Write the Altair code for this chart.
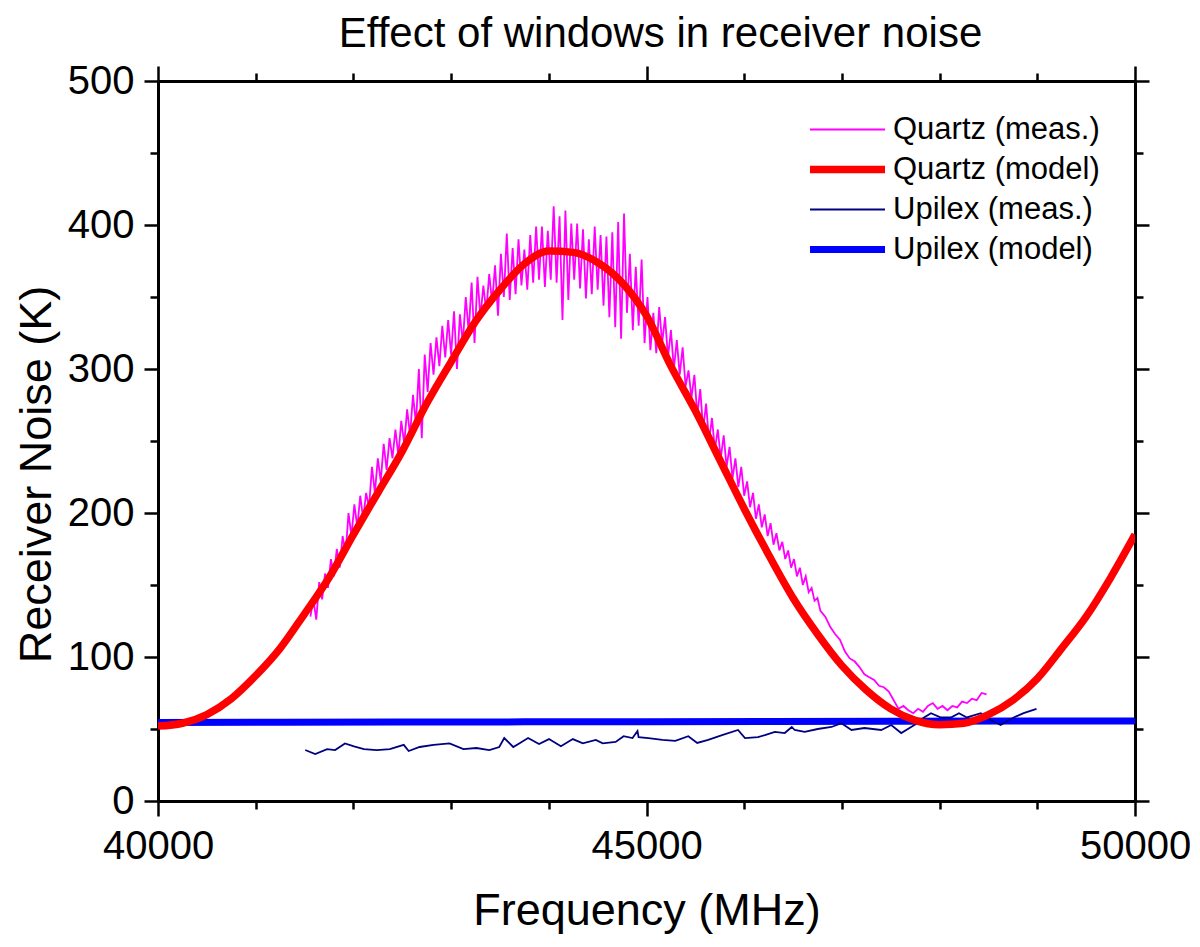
import pandas as pd
import altair as alt

names = ["Quartz (meas.)", "Quartz (model)", "Upilex (meas.)", "Upilex (model)"]
colors = ["#ff00ff", "#ff0000", "#000080", "#0000ff"]

# Quartz window, model (K), read every 250 MHz
model_freq = list(range(40000, 50001, 250))
quartz_model = [52, 54, 60, 71, 87, 106, 130, 155, 185, 214,
                243, 276, 305, 333, 355, 373, 382, 381, 374, 360,
                337, 302, 271, 237, 203, 171, 141, 116, 94, 77,
                64, 56, 53, 54, 60, 70, 85, 106, 128, 155,
                185]

# Upilex window, model (K)
upilex_model_freq = [40000, 42500, 45000, 47500, 50000]
upilex_model = [54.5, 54.8, 55.1, 55.4, 55.6]

# Quartz window, measured (K): noisy part read every 30 MHz, then the smoother tail
quartz_meas_freq = list(range(41560, 46781, 30))
quartz_meas = [128, 140, 126, 152, 140, 158, 148, 168, 156, 175,
               162, 184, 172, 200, 184, 206, 190, 212, 196, 214,
               204, 232, 214, 238, 222, 248, 230, 252, 238, 258,
               240, 264, 248, 272, 254, 282, 262, 300, 252, 310,
               284, 318, 296, 322, 302, 330, 308, 334, 310, 340,
               300, 338, 318, 350, 326, 360, 318, 364, 336, 358,
               340, 366, 346, 372, 337, 380, 350, 394, 348, 384,
               352, 390, 358, 383, 355, 393, 360, 399, 362, 399,
               357, 396, 362, 413, 360, 406, 334, 410, 348, 401,
               362, 401, 356, 397, 349, 390, 352, 399, 355, 393,
               344, 392, 336, 395, 329, 402, 321, 408, 339, 380,
               327, 371, 330, 376, 318, 350, 313, 339, 311, 343,
               318, 336, 308, 327, 300, 320, 296, 315, 288, 299,
               280, 296, 268, 286, 258, 276, 250, 266, 244, 258,
               238, 254, 232, 246, 224, 238, 218, 232, 212, 222,
               204, 214, 196, 206, 190, 199, 184, 193, 178, 186,
               174, 180, 168, 174, 162, 168, 156, 162, 150, 156,
               145, 148, 139, 141, 132]
quartz_tail_freq = [46830, 46880, 46930, 46980, 47030, 47080, 47130, 47180, 47230, 47280,
                    47330, 47380, 47430, 47480, 47530, 47580, 47630, 47680, 47730, 47780,
                    47830, 47880, 47930, 47980, 48030, 48080, 48130, 48180, 48230, 48280,
                    48330, 48380, 48430, 48480]
quartz_tail = [128, 121, 116, 112, 104, 99, 97, 93, 88, 86,
               84, 80, 79, 76, 70, 64, 66, 63, 61, 64,
               62, 66, 68, 64, 66, 63, 66, 65, 69, 68,
               71, 70, 75, 74]

# Upilex window, measured (K)
upilex_meas_freq = [41507, 41609, 41731, 41813, 41914, 42006, 42108, 42240, 42373, 42515,
                    42566, 42678, 42821, 42984, 43126, 43259, 43391, 43493, 43544, 43636,
                    43697, 43788, 43900, 44002, 44124, 44246, 44348, 44481, 44552, 44684,
                    44766, 44857, 44908, 44919, 45020, 45163, 45295, 45428, 45519, 45631,
                    45774, 45937, 46008, 46141, 46212, 46314, 46415, 46487, 46517, 46619,
                    46752, 46894, 46996, 47098, 47230, 47403, 47505, 47607, 47709, 47770,
                    47841, 47912, 48014, 48116, 48198, 48279, 48422, 48483, 48625, 48758,
                    48860, 48992]
upilex_meas = [35.4, 32.6, 36, 35.4, 40, 38, 36, 35.4, 36, 39,
               34.7, 37.5, 39, 40, 36, 36.8, 35.4, 37.5, 43.7, 37.5,
               40, 43.7, 39.6, 43, 38, 43, 40, 42.4, 40, 41,
               45, 43.7, 48.6, 44.4, 43.7, 42.4, 41.7, 45, 40.3, 42.4,
               45.8, 49.3, 43.7, 44.4, 45.8, 48, 47.2, 51.4, 49.3, 48,
               50, 51.4, 54, 49.3, 50.7, 49.3, 52.8, 47.2, 51.4, 54,
               58, 61, 58, 58, 61, 58, 61, 57.6, 52.8, 58,
               61, 64]


def frame(freq, noise, name):
    return pd.DataFrame({"freq": freq, "noise": noise, "series": name})


df = pd.concat([
    frame(quartz_meas_freq + quartz_tail_freq, quartz_meas + quartz_tail, names[0]),
    frame(model_freq, quartz_model, names[1]),
    frame(upilex_meas_freq, upilex_meas, names[2]),
    frame(upilex_model_freq, upilex_model, names[3]),
])

FONT = "Liberation Sans"
x_scale = alt.Scale(domain=[40000, 50000], nice=False, zero=False)
y_scale = alt.Scale(domain=[0, 500], nice=False)
x_ticks = list(range(40000, 50001, 1000))
y_ticks = list(range(0, 501, 50))
x_size = {"condition": {"test": "datum.value % 5000 === 0", "value": 15}, "value": 8}
y_size = {"condition": {"test": "datum.value % 100 === 0", "value": 14}, "value": 8}

legend = alt.Legend(title=None, orient="none", legendX=648, legendY=33,
                    symbolType="stroke", symbolSize=5625, clipHeight=31,
                    labelFont=FONT, labelFontSize=31, labelColor="black",
                    labelOffset=4, labelLimit=400, rowPadding=8, padding=0,
                    symbolOpacity=1)

color = alt.Color("series:N", scale=alt.Scale(domain=names, range=colors), legend=legend)
width = alt.StrokeWidth("series:N",
                        scale=alt.Scale(type="ordinal", domain=names, range=[1.8, 7.5, 1.8, 7]),
                        legend=legend)


def layer(name, x_axis, y_axis, smooth=False):
    line = alt.Chart(df).transform_filter(alt.datum.series == name)
    if smooth:
        line = line.mark_line(clip=True, interpolate="monotone")
    else:
        line = line.mark_line(clip=True)
    return line.encode(x=alt.X("freq:Q", scale=x_scale, axis=x_axis),
                       y=alt.Y("noise:Q", scale=y_scale, axis=y_axis),
                       color=color, strokeWidth=width)


bottom = alt.Axis(orient="bottom", values=x_ticks, format="d", tickSize=x_size,
                  labelExpr="datum.value % 5000 === 0 ? datum.label : ''",
                  labelFlush=False, labelOverlap=False, labelPadding=10,
                  title="Frequency (MHz)", titlePadding=22)
left = alt.Axis(orient="left", values=y_ticks, format="d", tickSize=y_size,
                labelExpr="datum.value % 100 === 0 ? datum.label : ''",
                labelOverlap=False, labelPadding=10,
                title="Receiver Noise (K)", titlePadding=8, titleY=393)
# the top axis carries the chart title
top = alt.Axis(orient="top", values=x_ticks, tickSize=x_size, labels=False,
               title="Effect of windows in receiver noise", titleFontSize=42,
               titlePadding=18, titleBaseline="alphabetic", titleX=502)
right = alt.Axis(orient="right", values=y_ticks, tickSize=y_size, labels=False, title=None)

chart = (alt.layer(
    layer(names[3], bottom, left, smooth=True),
    layer(names[2], top, right),
    layer(names[0], None, None),
    layer(names[1], None, None, smooth=True),
).resolve_axis(x="independent", y="independent")
 .properties(
    width=977, height=720,
    autosize=alt.AutoSizeParams(type="none"),
    padding={"left": 150, "top": 73, "right": 57, "bottom": 138},
).configure_view(stroke=None)
 .configure_axis(grid=False, domainColor="black", domainWidth=3,
                 tickColor="black", tickWidth=2.5, labelFont=FONT,
                 labelFontSize=40, labelColor="black", titleFont=FONT,
                 titleFontSize=45, titleFontWeight="normal", titleColor="black"))

chart.save("out.html", embed_options={"renderer": "svg", "actions": False})
